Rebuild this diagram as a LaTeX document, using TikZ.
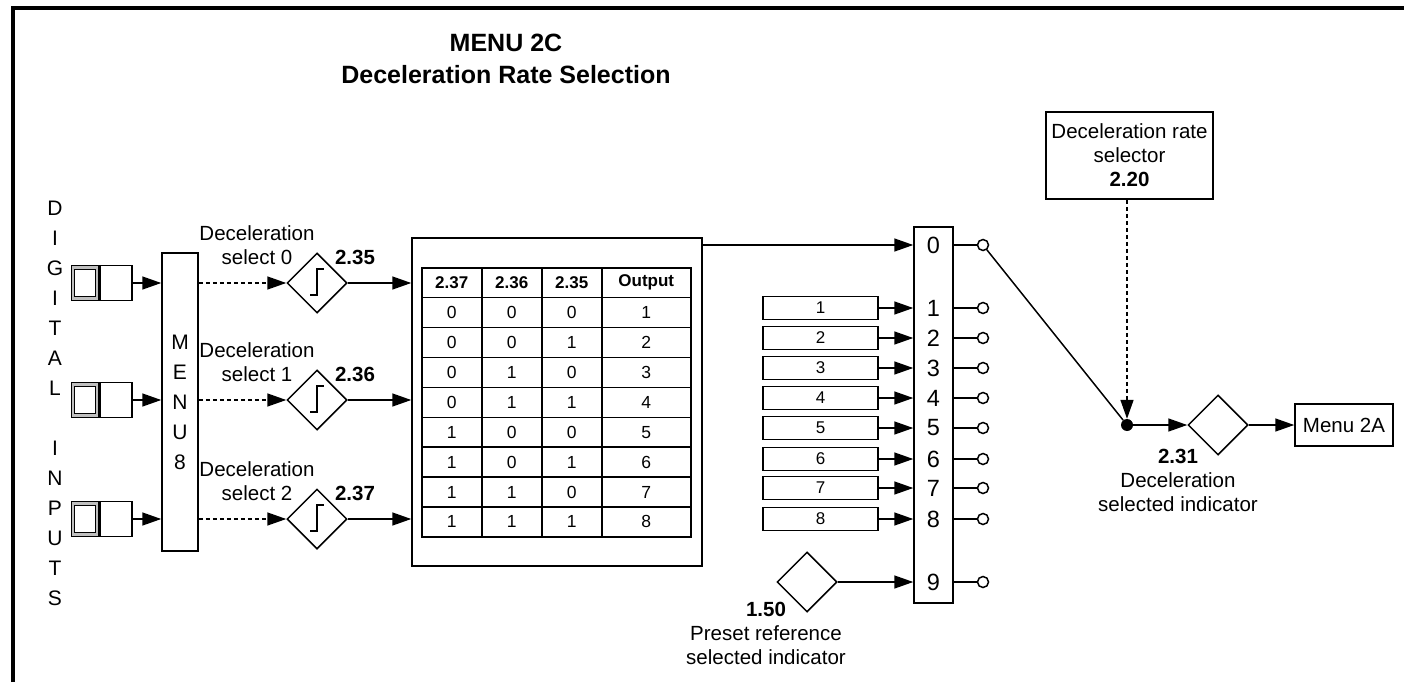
\documentclass[tikz,border=0pt]{standalone}
\usepackage{fontspec}
\setmainfont{Liberation Sans}
\usetikzlibrary{shapes.geometric, arrows.meta, positioning}

\newcommand{\fs}[2]{\fontsize{#1}{#2}\selectfont}

\begin{document}
\begin{tikzpicture}[x=1pt, y=-1pt,
  every node/.style={inner sep=0pt},
  blk/.style={rectangle, draw, line width=1.5pt, fill=white},
  dia/.style={diamond, draw, line width=1.5pt, minimum width=60pt, minimum height=60pt},
  txt/.style={font=\fs{20.5}{24}, align=center},
  pnum/.style={font=\fs{20.5}{24}\bfseries},
  cell/.style={blk, anchor=north west, minimum height=29.9pt, font=\fs{17.5}{20}},
  arr/.style={-{Triangle[length=19pt, width=13pt]}, line width=1.5pt},
  dsh/.style={arr, dash pattern=on 4pt off 3pt},
  pin/.style={circle, draw, line width=1.5pt, minimum size=11pt, fill=white},
]
  \useasboundingbox (0,0) rectangle (1404,682);

  % Frame and title
  \draw[line width=4pt] (13,682) -- (13,8) -- (1404,8);
  \node[font=\fs{25}{32}\bfseries, align=center] (title) at (506,59) {MENU 2C\\Deceleration Rate Selection};

  % Digital inputs and menu 8
  \node[txt, font=\fs{21}{30}] (dig) at (55,403) {D\\I\\G\\I\\T\\A\\L\\[30pt]I\\N\\P\\U\\T\\S};
  \node[blk, txt, font=\fs{21}{30}, minimum width=36, minimum height=298] (m8) at (180,402) {M\\E\\N\\U\\8};

  % Truth table block
  \node[blk, minimum width=290, minimum height=328] (big) at (557,402) {};
  \foreach \t/\x/\w [count=\c] in {2.37/421/60, 2.36/481/60, 2.35/541/60, Output/601/89}
    \node[cell, minimum width=\w, font=\fs{17}{20}\bfseries] (h\c) at (\x,267) {\t};
  \foreach \va/\vb/\vc/\vo [count=\r] in {0/0/0/1, 0/0/1/2, 0/1/0/3, 0/1/1/4, 1/0/0/5, 1/0/1/6, 1/1/0/7, 1/1/1/8} {
    \node[cell, minimum width=60] (t\r-1) at (421,{267+29.9*\r}) {\va};
    \node[cell, minimum width=60] (t\r-2) at (481,{267+29.9*\r}) {\vb};
    \node[cell, minimum width=60] (t\r-3) at (541,{267+29.9*\r}) {\vc};
    \node[cell, minimum width=89] (t\r-4) at (601,{267+29.9*\r}) {\vo};
  }

  % Input rows
  \foreach \i/\y/\v in {0/283/2.35, 1/400/2.36, 2/519/2.37} {
    \node[blk, minimum width=32, minimum height=35] (in\i) at (116,\y) {};
    \node[blk, fill=gray!50, minimum width=27, minimum height=35, left=0pt of in\i] (ig\i) {};
    \node[blk, minimum width=21, minimum height=27] (is\i) at (ig\i) {};
    \node[dia] (d\i) at (317,\y) {};
    \draw[line width=1.5pt] ([shift={(-7,12)}]d\i.center) -- ++(7,0) -- ++(0,-26) -- ++(7,0);
    \node[txt] (dl\i) at (257,{\y-38}) {Deceleration\\select \i};
    \node[pnum] (dn\i) at (355,{\y-26}) {\v};
    \draw[arr] (in\i) -- (in\i -| m8.west);
    \draw[dsh] (d\i -| m8.east) -- (d\i);
    \draw[arr] (d\i) -- (d\i -| big.west);
  }

  % Selector
  \node[blk, minimum width=39, minimum height=376] (sel) at (933.5,415) {};
  \foreach \k/\y in {0/245, 1/308, 2/338, 3/368, 4/398, 5/428, 6/459, 7/488, 8/519, 9/582} {
    \node[font=\fs{23.5}{26}] (s\k) at (933.5,\y) {\k};
    \node[pin] (o\k) at (983,\y) {};
    \draw[line width=1.5pt] (s\k -| sel.east) -- (o\k);
  }
  \foreach \k/\y in {1/308, 2/338, 3/368, 4/398, 5/428, 6/459, 7/488, 8/519} {
    \node[blk, minimum width=115, minimum height=23, font=\fs{17}{18}] (p\k) at (820.5,\y) {\k};
    \draw[arr] (p\k) -- (p\k -| sel.west);
  }
  \draw[arr] (big.east |- s0) -- (s0 -| sel.west);

  % Preset reference indicator
  \node[dia] (d150) at (807,582) {};
  \node[txt] (l150) at (766,633) {\textbf{1.50}\\Preset reference\\selected indicator};
  \draw[arr] (d150) -- (d150 -| sel.west);

  % Output side
  \node[blk, txt, minimum width=167, minimum height=87] (rsel) at (1129.5,155.5) {Deceleration rate\\selector\\\textbf{2.20}};
  \node[circle, fill, minimum size=12] (jn) at (1127,425) {};
  \node[dia] (d31) at (1218,425) {};
  \node[blk, txt, minimum width=98, minimum height=42] (m2a) at (1344,425) {Menu 2A};
  \node[txt] (l31) at (1178,480) {\textbf{2.31}\\Deceleration\\selected indicator};
  \draw[dsh] (jn |- rsel.south) -- (jn);
  \draw[line width=1.5pt] (o0) -- (jn);
  \draw[arr] (jn) -- (d31);
  \draw[arr] (d31) -- (m2a);
\end{tikzpicture}
\end{document}
